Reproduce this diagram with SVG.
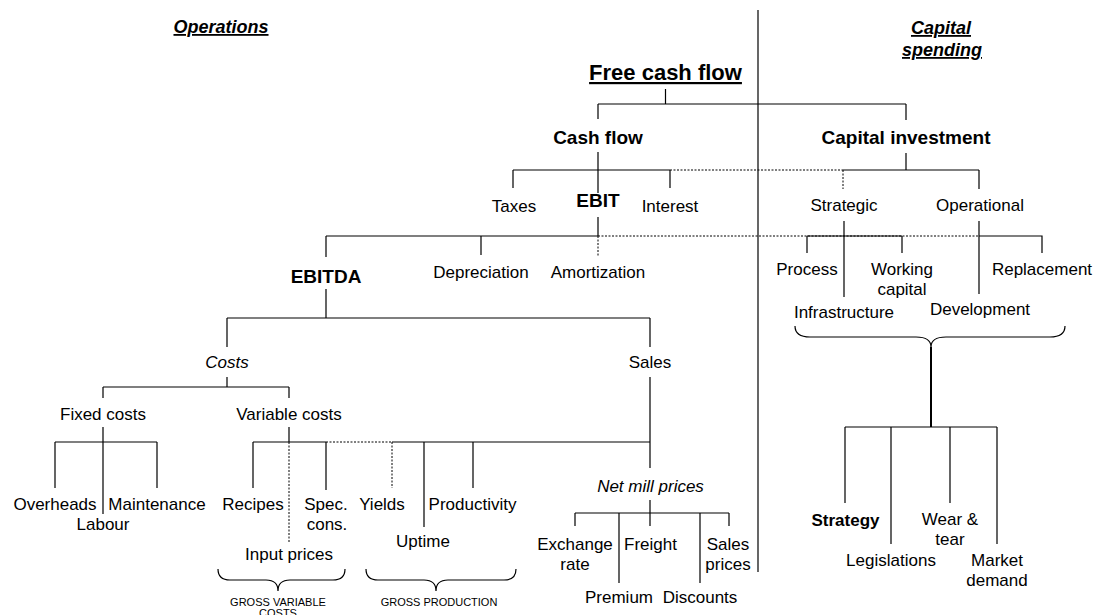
<svg xmlns="http://www.w3.org/2000/svg" width="1096" height="615" viewBox="0 0 1096 615">
<style>
text{font-family:"Liberation Sans",Arial,sans-serif;fill:#000;text-anchor:middle}
.r{font-size:17px}
.b{font-size:19px;font-weight:bold}
.sb{font-size:17px;font-weight:bold}
.i{font-size:17px;font-style:italic}
.h{font-size:18px;font-weight:bold;font-style:italic;text-decoration:underline}
.f{font-size:22px;font-weight:bold;text-decoration:underline}
.s{font-size:11px}
.ln{stroke:#000;stroke-width:1.2;fill:none}
.th{stroke:#000;stroke-width:2;fill:none}
.dt{stroke:#000;stroke-width:1;stroke-dasharray:2 1.5;fill:none}
</style>
<rect width="1096" height="615" fill="#fff"/>
<g id="connectors">
<line class="ln" x1="758" y1="10" x2="758" y2="572"/>
<path class="ln" d="M665.5,89 V104 M598,104 H906 M598,104 V119 M906,104 V120"/>
<path class="ln" d="M598,152 V170 M513,170 H670 M513,170 V188 M598,170 V193 M670,170 V188"/>
<path class="dt" d="M670,170 H843"/>
<path class="ln" d="M906,153 V170 M843,170 H979 M979,170 V189"/>
<path class="dt" d="M843,170 V189"/>
<path class="ln" d="M598,217 V236 M326,236 H598 M326,236 V257 M481,236 V255"/>
<path class="dt" d="M598,236 H979 M598,236 V257"/>
<path class="ln" d="M844,221 V297 M807,236 H902 M807,236 V253 M902,236 V253"/>
<path class="ln" d="M979,221 V294 M979,236 H1042 V253"/>
<path class="ln" d="M795,326 Q795,337 810,337 H916 Q931,337 931,347 Q931,337 946,337 H1050 Q1065,337 1065,326"/>
<path class="th" d="M931,347 V427"/>
<path class="ln" d="M845,427 H997 M845,427 V503 M891,427 V544 M950,427 V503 M997,427 V544"/>
<path class="ln" d="M326,289 V318 M227,318 H650 M227,318 V347 M650,318 V347"/>
<path class="ln" d="M227,377 V387 M103,387 H289 M103,387 V398 M289,387 V398"/>
<path class="ln" d="M103,427 V442 M55,442 H157 M55,442 V488 M103,442 V514 M157,442 V488"/>
<path class="ln" d="M289,427 V442 M253,442 H326 M253,442 V488 M326,442 V490"/>
<path class="dt" d="M289,442 V543 M326,442 H392 M392,442 V488"/>
<path class="ln" d="M650,377 V468 M392,442 H650 M424,442 V527 M473,442 V488"/>
<path class="ln" d="M650,500 V513 M575,513 H729 M575,513 V526 M619,513 V583 M650,513 V526 M700,513 V583 M729,513 V526"/>
<path class="ln" d="M218,569 Q218,580 230,580 H266 Q278,580 278,591 Q278,580 290,580 H333 Q345,580 345,569"/>
<path class="ln" d="M366,569 Q366,580 378,580 H424 Q436,580 436,591 Q436,580 448,580 H504 Q516,580 516,569"/>
</g>
<g id="hdr-operations"><text class="h" x="221" y="33">Operations</text></g>
<g id="hdr-capital"><text class="h" x="941" y="34">Capital</text><text class="h" x="942" y="56">spending</text></g>
<g id="free-cash-flow"><text class="f" x="665.5" y="80">Free cash flow</text></g>
<g id="cash-flow"><text class="b" x="598" y="144">Cash flow</text></g>
<g id="capital-investment"><text class="b" x="906" y="144">Capital investment</text></g>
<g id="taxes"><text class="r" x="514" y="212">Taxes</text></g>
<g id="ebit"><text class="b" x="598" y="207">EBIT</text></g>
<g id="interest"><text class="r" x="670" y="212">Interest</text></g>
<g id="strategic"><text class="r" x="844" y="211">Strategic</text></g>
<g id="operational"><text class="r" x="980" y="211">Operational</text></g>
<g id="ebitda"><text class="b" x="326" y="283">EBITDA</text></g>
<g id="depreciation"><text class="r" x="481" y="278">Depreciation</text></g>
<g id="amortization"><text class="r" x="598" y="278">Amortization</text></g>
<g id="process"><text class="r" x="807" y="275">Process</text></g>
<g id="working-capital"><text class="r" x="902" y="275">Working</text><text class="r" x="902" y="295">capital</text></g>
<g id="replacement"><text class="r" x="1042" y="275">Replacement</text></g>
<g id="infrastructure"><text class="r" x="844" y="318">Infrastructure</text></g>
<g id="development"><text class="r" x="980" y="315">Development</text></g>
<g id="costs"><text class="i" x="227" y="368">Costs</text></g>
<g id="sales"><text class="r" x="650" y="368">Sales</text></g>
<g id="fixed-costs"><text class="r" x="103" y="420">Fixed costs</text></g>
<g id="variable-costs"><text class="r" x="289" y="420">Variable costs</text></g>
<g id="overheads"><text class="r" x="55" y="510">Overheads</text></g>
<g id="labour"><text class="r" x="103" y="530">Labour</text></g>
<g id="maintenance"><text class="r" x="157" y="510">Maintenance</text></g>
<g id="recipes"><text class="r" x="253" y="510">Recipes</text></g>
<g id="input-prices"><text class="r" x="289" y="560">Input prices</text></g>
<g id="spec-cons"><text class="r" x="326" y="510">Spec.</text><text class="r" x="327" y="530">cons.</text></g>
<g id="yields"><text class="r" x="382" y="510">Yields</text></g>
<g id="uptime"><text class="r" x="423" y="547">Uptime</text></g>
<g id="productivity"><text class="r" x="472.5" y="510">Productivity</text></g>
<g id="gross-variable-costs"><text class="s" x="278" y="606">GROSS VARIABLE</text><text class="s" x="278" y="617">COSTS</text></g>
<g id="gross-production"><text class="s" x="439" y="606">GROSS PRODUCTION</text></g>
<g id="net-mill-prices"><text class="i" x="650.5" y="492">Net mill prices</text></g>
<g id="exchange-rate"><text class="r" x="575" y="550">Exchange</text><text class="r" x="575" y="570">rate</text></g>
<g id="freight"><text class="r" x="650.5" y="550">Freight</text></g>
<g id="sales-prices"><text class="r" x="728" y="550">Sales</text><text class="r" x="728" y="570">prices</text></g>
<g id="premium"><text class="r" x="619" y="603">Premium</text></g>
<g id="discounts"><text class="r" x="700" y="603">Discounts</text></g>
<g id="strategy"><text class="sb" x="845.5" y="526">Strategy</text></g>
<g id="legislations"><text class="r" x="891" y="566">Legislations</text></g>
<g id="wear-tear"><text class="r" x="950" y="525">Wear &amp;</text><text class="r" x="950" y="545">tear</text></g>
<g id="market-demand"><text class="r" x="997" y="566">Market</text><text class="r" x="997" y="586">demand</text></g>
</svg>
